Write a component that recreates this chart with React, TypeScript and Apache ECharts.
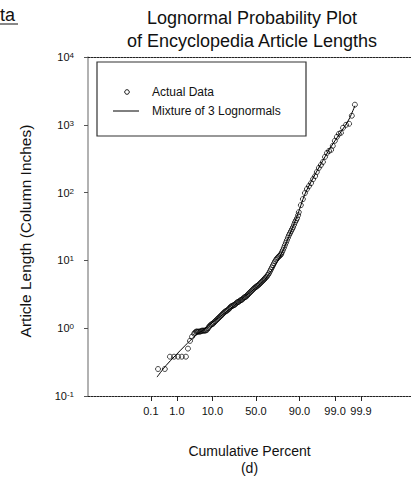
import React, { useEffect, useRef } from "react";
import * as echarts from "echarts";

// Cumulative-percent tick marks on the probability axis
const tickPercents = [0.1, 1, 10, 50, 90, 99, 99.9];
const tickLabels = ["0.1", "1.0", "10.0", "50.0", "90.0", "99.0", "99.9"];

// Actual data: normal score (probability-scale position) and article length (column inches)
const dataScore = [
  -2.88, -2.68, -2.53, -2.41, -2.29, -2.18, -2.06, -2.0, -1.94, -1.88, -1.82, -1.76, -1.71, -1.65, -1.59, -1.53,
  -1.44, -1.38, -1.32, -1.26, -1.21, -1.15, -1.09, -1.03, -0.97, -0.91, -0.85, -0.79, -0.74, -0.68, -0.62, -0.56,
  -0.5, -0.44, -0.38, -0.32, -0.26, -0.21, -0.15, -0.09, -0.03, 0.03, 0.09, 0.15, 0.21, 0.26, 0.32, 0.38, 0.44, 0.5,
  0.56, 0.62, 0.68, 0.74, 0.79, 0.85, 0.91, 0.97, 1.03, 1.09, 1.15, 1.21, 1.26, 1.32, 1.38, 1.44, 1.5, 1.56, 1.62,
  1.68, 1.74, 1.79, 1.85, 1.91, 1.97, 2.03, 2.09, 2.15, 2.21, 2.26, 2.32, 2.38, 2.44, 2.5, 2.56, 2.65, 2.74, 2.82,
  2.91,
  // dense central band
  -1.79, -1.74, -1.68, -1.62, -1.56, -1.5, -1.47, -1.41, -1.35, -1.29, -1.24, -1.18, -1.12, -1.06, -1.0, -0.94,
  -0.88, -0.82, -0.76, -0.71, -0.65, -0.59, -0.53, -0.47, -0.41, -0.35, -0.29, -0.24, -0.18, -0.12, -0.06, 0.0,
  0.06, 0.12, 0.18, 0.24, 0.29, 0.35, 0.41, 0.47, 0.53, 0.59, 0.65, 0.71, 0.76, 0.82, 0.88, 0.94, 1.0, 1.06, 1.12,
  1.18, 1.24,
];
const dataLength = [
  0.25, 0.25, 0.38, 0.38, 0.38, 0.38, 0.38, 0.5, 0.65, 0.75, 0.83, 0.89, 0.89, 0.89, 0.92, 0.92, 0.95, 1.05, 1.13,
  1.17, 1.25, 1.34, 1.43, 1.53, 1.64, 1.75, 1.82, 1.94, 2.08, 2.15, 2.23, 2.39, 2.47, 2.6, 2.73, 2.88, 3.03, 3.24,
  3.47, 3.72, 3.98, 4.19, 4.41, 4.72, 5.06, 5.41, 5.79, 6.42, 7.36, 8.43, 9.66, 10.7, 11.5, 12.3, 14.1, 16.7, 19.8,
  23.5, 26.9, 30.8, 36.6, 41.9, 51.4, 65.3, 80.2, 98.4, 113, 125, 138, 158, 175, 201, 231, 255, 283, 336, 385, 412,
  427, 489, 580, 664, 736, 761, 903, 1000, 1035, 1360, 1980,
  // dense central band
  0.86, 0.89, 0.89, 0.9, 0.92, 0.92, 0.93, 1.0, 1.09, 1.15, 1.21, 1.29, 1.38, 1.48, 1.58, 1.7, 1.79, 1.88, 2.01,
  2.12, 2.19, 2.31, 2.43, 2.55, 2.64, 2.83, 2.93, 3.13, 3.35, 3.59, 3.85, 4.05, 4.27, 4.57, 4.89, 5.23, 5.6, 6.1,
  6.87, 7.87, 9.02, 10.2, 11.1, 11.9, 13.1, 15.3, 18.2, 21.6, 25.1, 28.8, 33.6, 39.1, 46.4,
];

// Mixture of 3 lognormals (fitted curve)
const fitScore = [
  -2.91, -2.65, -2.38, -2.09, -1.79, -1.5, -1.21, -0.76, -0.32, 0, 0.26, 0.5, 0.74, 0.97, 1.21, 1.44, 1.68, 1.91,
  2.15, 2.38, 2.62, 2.76, 2.91,
];
const fitLength = [
  0.19, 0.28, 0.39, 0.55, 0.77, 0.98, 1.29, 1.94, 2.93, 3.98, 5.23, 7.61, 12.3, 22.7, 44.9, 95, 164, 264, 427, 641,
  966, 1270, 1910,
];

function probit(pct: number): number {
  const p = pct / 100;
  const a = [-39.69683028665376, 220.9460984245205, -275.9285104469687, 138.357751867269, -30.66479806614716, 2.506628277459239];
  const b = [-54.47609879822406, 161.5858368580409, -155.6989798598866, 66.80131188771972, -13.28068155288572];
  const c = [-0.007784894002430293, -0.3223964580411365, -2.400758277161838, -2.549732539343734, 4.374664141464968, 2.938163982698783];
  const d = [0.007784695709041462, 0.3224671290700398, 2.445134137142996, 3.754408661907416];
  const plow = 0.02425;
  if (p < plow) {
    const q = Math.sqrt(-2 * Math.log(p));
    return (((((c[0] * q + c[1]) * q + c[2]) * q + c[3]) * q + c[4]) * q + c[5]) / ((((d[0] * q + d[1]) * q + d[2]) * q + d[3]) * q + 1);
  }
  if (p <= 1 - plow) {
    const q = p - 0.5;
    const r = q * q;
    return ((((((a[0] * r + a[1]) * r + a[2]) * r + a[3]) * r + a[4]) * r + a[5]) * q) / (((((b[0] * r + b[1]) * r + b[2]) * r + b[3]) * r + b[4]) * r + 1);
  }
  const q = Math.sqrt(-2 * Math.log(1 - p));
  return -(((((c[0] * q + c[1]) * q + c[2]) * q + c[3]) * q + c[4]) * q + c[5]) / ((((d[0] * q + d[1]) * q + d[2]) * q + d[3]) * q + 1);
}

const FONT = "'Liberation Sans', Arial, Helvetica, sans-serif";

export default function App() {
  const ref = useRef<HTMLDivElement>(null);
  useEffect(() => {
    if (!ref.current) return;
    const chart = echarts.init(ref.current, undefined, { renderer: "svg" });
    const tickZ = tickPercents.map(probit);
    const labelFor = (v: number) => {
      let best = 0;
      for (let i = 0; i < tickZ.length; i++) if (Math.abs(tickZ[i] - v) < Math.abs(tickZ[best] - v)) best = i;
      return tickLabels[best];
    };
    const xMin = -4.94;
    const xMax = 4.56;
    chart.setOption({
      animation: false,
      textStyle: { fontFamily: FONT },
      grid: { left: 88, right: 0, top: 57, bottom: 87, containLabel: false },
      xAxis: [
        {
          type: "value",
          position: "bottom",
          min: xMin,
          max: xMax,
          name: "Cumulative Percent\n(d)",
          nameLocation: "middle",
          nameGap: 46,
          nameTextStyle: { fontSize: 14, color: "#111", fontFamily: FONT, lineHeight: 17 },
          axisLine: { onZero: false, lineStyle: { color: "#222", width: 1, type: [2, 1] } },
          axisTick: { show: true, inside: false, length: 5, customValues: tickZ, lineStyle: { color: "#222" } },
          axisLabel: {
            customValues: tickZ,
            formatter: (v: number) => labelFor(v),
            fontSize: 11,
            color: "#111",
            margin: 9,
            fontFamily: FONT,
          },
          splitLine: { show: false },
        },
        {
          type: "value",
          position: "top",
          min: xMin,
          max: xMax,
          axisLine: { onZero: false, lineStyle: { color: "#222", width: 1, type: [2, 1] } },
          axisTick: { show: false },
          axisLabel: { show: false },
          splitLine: { show: false },
        },
      ],
      yAxis: {
        type: "log",
        logBase: 10,
        min: 0.1,
        max: 10000,
        axisLine: { show: true, onZero: false, lineStyle: { color: "#999", width: 1.5 } },
        axisTick: { show: true, inside: false, length: 4, lineStyle: { color: "#555" } },
        axisLabel: {
          margin: 14,
          color: "#111",
          fontSize: 11,
          fontFamily: FONT,
          formatter: (v: number) => `10{sup|${Math.round(Math.log10(v))}}`,
          rich: { sup: { fontSize: 8, verticalAlign: "top", fontFamily: FONT, color: "#111" } },
        },
        splitLine: { show: false },
      },
      series: [
        {
          name: "Mixture of 3 Lognormals",
          type: "line",
          data: fitScore.map((z, i) => [z, fitLength[i]]),
          showSymbol: false,
          smooth: 0.3,
          lineStyle: { color: "#000", width: 1 },
          z: 2,
        },
        {
          name: "Actual Data",
          type: "scatter",
          data: dataScore.map((z, i) => [z, dataLength[i]]),
          symbol: "circle",
          symbolSize: 5,
          itemStyle: { color: "rgba(0,0,0,0)", borderColor: "#000", borderWidth: 0.9 },
          z: 3,
        },
      ],
      graphic: [
        {
          type: "text",
          x: 252,
          y: 18,
          style: { text: "Lognormal Probability Plot", fontSize: 18, fontFamily: FONT, fill: "#111", align: "center", verticalAlign: "middle" },
        },
        {
          type: "text",
          x: 252,
          y: 41,
          style: { text: "of Encyclopedia Article Lengths", fontSize: 18, fontFamily: FONT, fill: "#111", align: "center", verticalAlign: "middle" },
        },
        {
          type: "text",
          x: 25,
          y: 231,
          rotation: Math.PI / 2,
          style: { text: "Article Length (Column Inches)", fontSize: 15.5, fontFamily: FONT, fill: "#111", align: "center", verticalAlign: "middle" },
        },
        {
          type: "text",
          x: 0,
          y: 15,
          style: { text: "ta", fontSize: 18, fontFamily: FONT, fill: "#111", align: "left", verticalAlign: "middle" },
        },
        { type: "line", shape: { x1: 0, y1: 24, x2: 18, y2: 24 }, style: { stroke: "#111", lineWidth: 1 } },
        {
          type: "rect",
          shape: { x: 97, y: 62, width: 209, height: 74 },
          style: { fill: "#fff", stroke: "#333", lineWidth: 1.2 },
          z: 10,
        },
        { type: "circle", shape: { cx: 127, cy: 92, r: 2.3 }, style: { fill: "none", stroke: "#000", lineWidth: 0.9 }, z: 11 },
        {
          type: "text",
          x: 152,
          y: 92,
          style: { text: "Actual Data", fontSize: 12, fontFamily: FONT, fill: "#111", align: "left", verticalAlign: "middle" },
          z: 11,
        },
        { type: "line", shape: { x1: 113, y1: 111, x2: 139, y2: 111 }, style: { stroke: "#000", lineWidth: 1 }, z: 11 },
        {
          type: "text",
          x: 152,
          y: 111,
          style: { text: "Mixture of 3 Lognormals", fontSize: 12, fontFamily: FONT, fill: "#111", align: "left", verticalAlign: "middle" },
          z: 11,
        },
      ],
    });
    return () => chart.dispose();
  }, []);
  return <div ref={ref} style={{ position: "absolute", left: 0, top: 0, width: 411, height: 483 }} />;
}
